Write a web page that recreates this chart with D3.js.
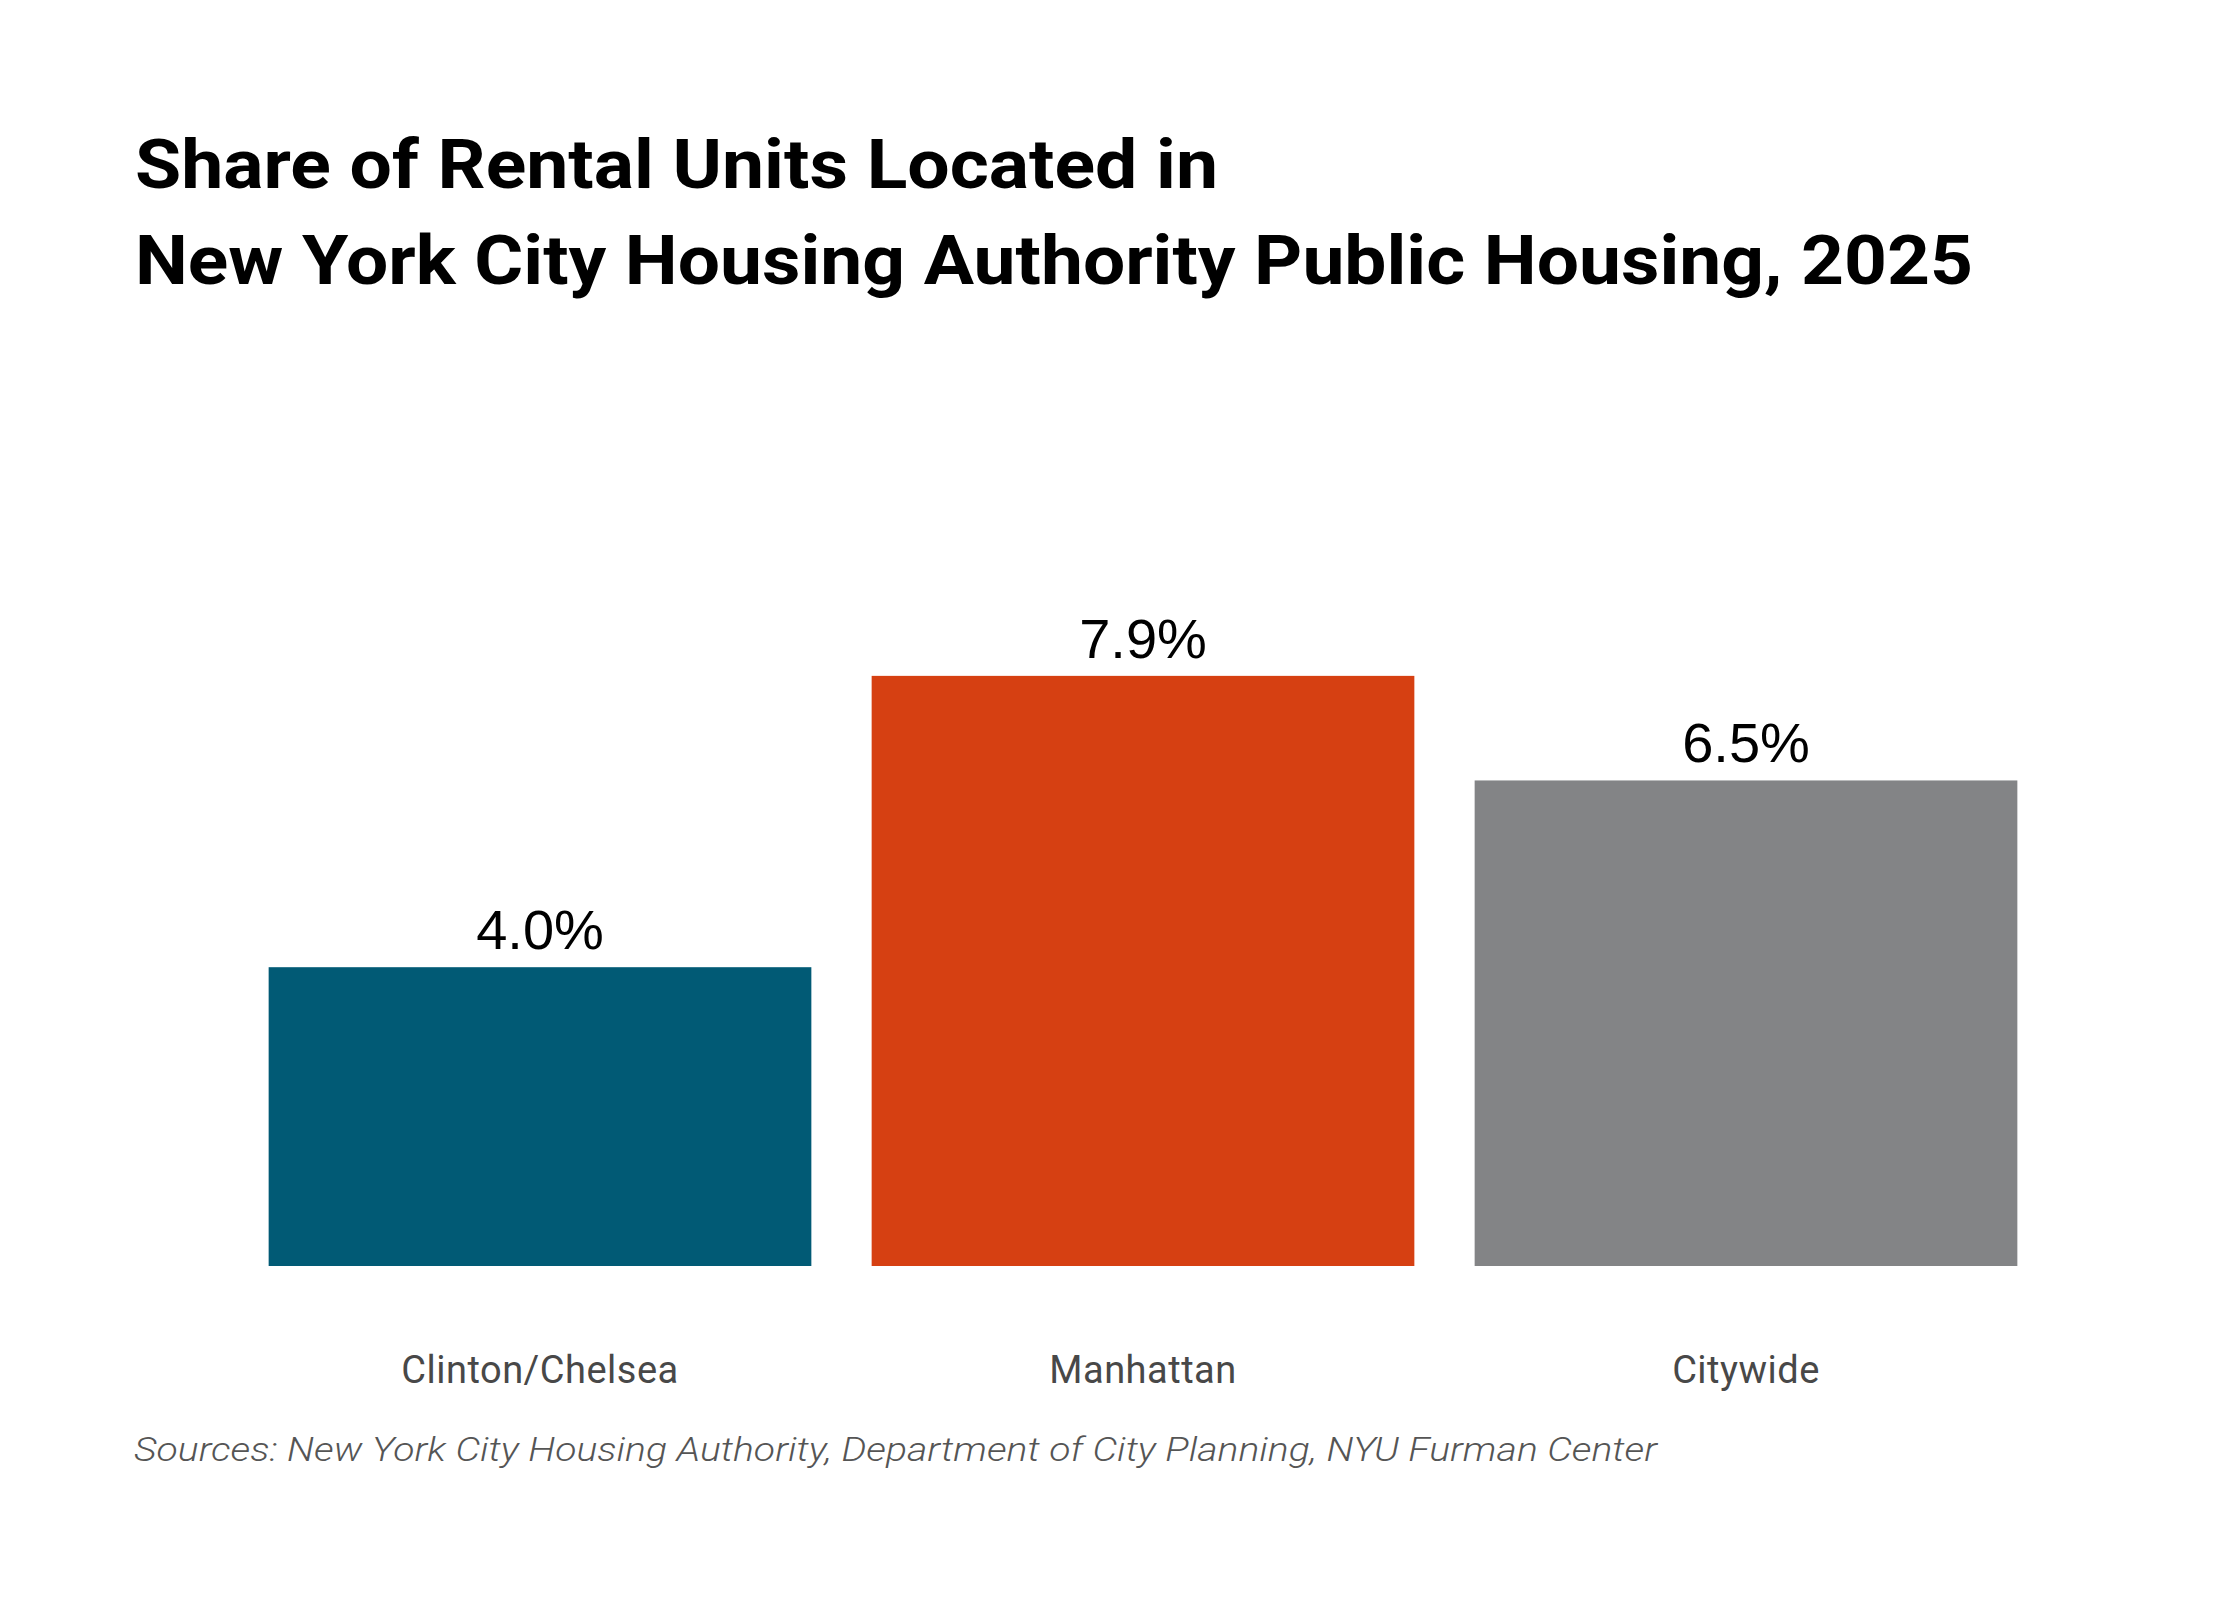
<!DOCTYPE html>
<html>
<head>
<meta charset="utf-8">
<script src="https://cdn.jsdelivr.net/npm/d3@7"></script>
<style>
  html, body { margin: 0; padding: 0; background: #ffffff; }
  svg { display: block; }
</style>
</head>
<body>
<svg id="chart"></svg>
<script>
// Share of rental units in NYCHA public housing, 2025

const categories = ['Clinton/Chelsea', 'Manhattan', 'Citywide'];
const shares = [4.0, 7.9, 6.5];
const barColors = ['#015a75', '#d64012', '#838486'];
const titleLines = [
    'Share of Rental Units Located in',
    'New York City Housing Authority Public Housing, 2025'
];
const sourceText = 'Sources: New York City Housing Authority, Department of City Planning, NYU Furman Center';

const width = 2240;
const height = 1600;

const svg = d3.select('#chart')
    .attr('width', width)
    .attr('height', height)
    .attr('viewBox', `0 0 ${width} ${height}`);

svg.append('rect')
    .attr('width', width)
    .attr('height', height)
    .attr('fill', '#ffffff');

// Scales
const x = d3.scaleBand()
    .domain(categories)
    .range([238.5, 2047.5])
    .paddingInner(0.1)
    .paddingOuter(0.05);

const y = d3.scaleLinear()
    .domain([0, 10])
    .range([1266, 519]);

const data = categories.map((c, i) => ({ name: c, value: shares[i], color: barColors[i] }));

// Title
const titleFont = 'Roboto, "Noto Sans", sans-serif';
const titleWidths = [1083, 1838];
svg.selectAll('.title-line')
    .data(titleLines)
    .enter()
    .append('text')
    .attr('class', 'title-line')
    .attr('x', 135)
    .attr('y', (d, i) => 188 + i * 96)
    .attr('fill', '#000000')
    .attr('font-family', titleFont)
    .attr('font-weight', 700)
    .attr('font-size', '68px')
    .attr('textLength', (d, i) => titleWidths[i])
    .attr('lengthAdjust', 'spacingAndGlyphs')
    .text(d => d);

// Bars
svg.selectAll('.bar')
    .data(data)
    .enter()
    .append('rect')
    .attr('class', 'bar')
    .attr('x', d => x(d.name))
    .attr('y', d => y(d.value))
    .attr('width', x.bandwidth())
    .attr('height', d => y(0) - y(d.value))
    .attr('fill', d => d.color);

// Value labels
svg.selectAll('.value-label')
    .data(data)
    .enter()
    .append('text')
    .attr('class', 'value-label')
    .attr('x', d => x(d.name) + x.bandwidth() / 2)
    .attr('y', d => y(d.value) - 18)
    .attr('text-anchor', 'middle')
    .attr('fill', '#000000')
    .attr('font-family', '"Liberation Sans", Arial, sans-serif')
    .attr('font-size', '56px')
    .text(d => `${d.value.toFixed(1)}%`);

// Category labels (x axis, no line or ticks)
const xAxis = svg.append('g')
    .attr('transform', `translate(0, ${y(0)})`)
    .call(d3.axisBottom(x).tickSize(0).tickPadding(0));
xAxis.select('.domain').remove();
xAxis.selectAll('text')
    .attr('y', 117)
    .attr('dy', 0)
    .attr('fill', '#484848')
    .attr('font-family', titleFont)
    .attr('font-size', '38px')
    .attr('letter-spacing', '0.5px');

// Sources
svg.append('text')
    .attr('x', 134)
    .attr('y', 1461)
    .attr('fill', '#555555')
    .attr('font-family', titleFont)
    .attr('font-style', 'italic')
    .attr('font-weight', 300)
    .attr('font-size', '33px')
    .attr('textLength', 1523)
    .attr('lengthAdjust', 'spacingAndGlyphs')
    .text(sourceText);
</script>
</body>
</html>
